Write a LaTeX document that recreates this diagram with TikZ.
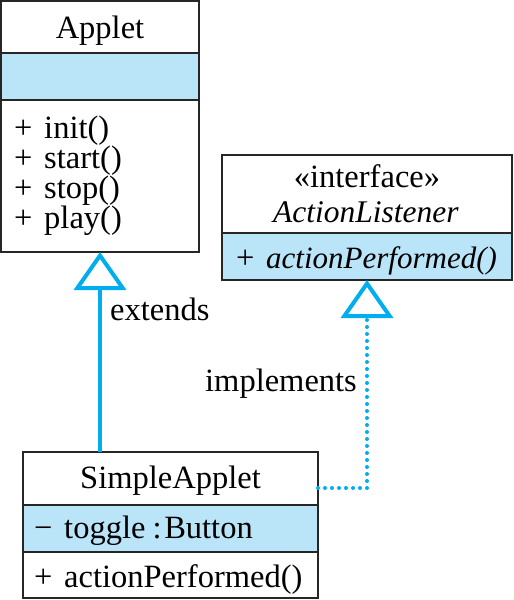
\documentclass[tikz,border=0pt]{standalone}
\usepackage{fontspec}
\setmainfont{Liberation Serif}
\usetikzlibrary{arrows.meta}
\definecolor{fillblue}{HTML}{BAE4F8}
\definecolor{lineblue}{HTML}{00AEEF}
\begin{document}
\begin{tikzpicture}[x=1pt,y=-1pt,
  font=\fontsize{32.5}{32.5}\selectfont,
  comp/.style={draw=black!85, line width=2pt, inner sep=0pt, outer sep=0pt, anchor=north west},
  compfill/.style={comp, fill=fillblue},
  lbl/.style={inner sep=0pt, anchor=base},
  lblw/.style={inner sep=0pt, anchor=base west},
  opentip/.style={-{Triangle[open, length=38pt, width=52pt, line width=4pt]}},
  extconn/.style={draw=lineblue, line width=4pt, opentip},
  impconn/.style={draw=lineblue, line width=4pt, line cap=round, dash pattern=on 0pt off 7pt, opentip}
]
\useasboundingbox (0,0) rectangle (514,600);

% Applet
\node[comp, minimum width=198pt, minimum height=52pt] (aName) at (1,1) {};
\node[compfill, minimum width=198pt, minimum height=47pt] (aAttr) at (1,53) {};
\node[comp, minimum width=198pt, minimum height=152pt] (aOps) at (1,100) {};
\node[lbl] (aNameT) at (100,38) {Applet};
\node[lblw] (aOp1) at (14,138) {+\hspace{0.36em}init()};
\node[lblw] (aOp2) at (14,168) {+\hspace{0.36em}start()};
\node[lblw] (aOp3) at (14,198) {+\hspace{0.36em}stop()};
\node[lblw] (aOp4) at (14,228) {+\hspace{0.36em}play()};

% ActionListener
\node[comp, minimum width=290pt, minimum height=78pt] (lName) at (222,155) {};
\node[compfill, minimum width=290pt, minimum height=47pt] (lOps) at (222,233) {};
\node[lbl] (lStereo) at (367,187) {«interface»};
\node[lbl] (lNameT) at (366,222) {\fontsize{31.5}{31.5}\selectfont\textit{ActionListener}};
\node[lblw] (lOp1) at (236,268) {+\hspace{0.36em}\fontsize{31}{31}\selectfont\textit{actionPerformed()}};

% SimpleApplet
\node[comp, minimum width=295pt, minimum height=53pt] (sName) at (23,452) {};
\node[compfill, minimum width=295pt, minimum height=47pt] (sAttr) at (23,505) {};
\node[comp, minimum width=295pt, minimum height=46pt] (sOps) at (23,552) {};
\node[lbl] (sNameT) at (170.5,488) {SimpleApplet};
\node[lblw] (sAttr1) at (34,538) {−\hspace{0.36em}toggle\hspace{0.22em}:\hspace{0.08em}Button};
\node[lblw] (sOp1) at (34,587) {+\hspace{0.36em}actionPerformed()};

% connectors
\draw[extconn] (sName.north -| aOps.south) -- (aOps.south);
\node[lblw] (extLbl) at (110,320) {extends};
\draw[impconn] ([yshift=-9.5pt]sName.east) -| (lOps.south);
\node[lblw] (impLbl) at (205,391) {implements};
\end{tikzpicture}
\end{document}
